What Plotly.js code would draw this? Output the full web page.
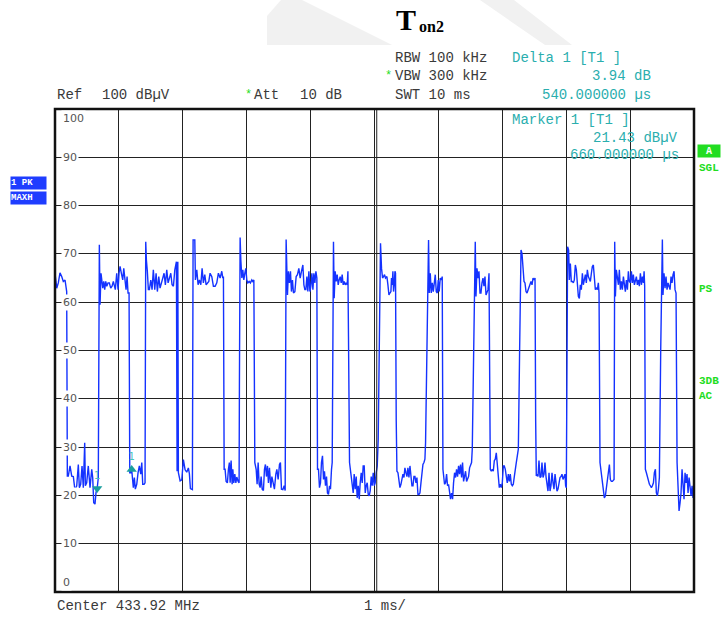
<!DOCTYPE html>
<html><head><meta charset="utf-8">
<script src="https://cdn.plot.ly/plotly-3.0.1.min.js"></script>
<style>html,body{margin:0;padding:0;background:#fff}#chart{width:723px;height:617px}</style>
</head><body><div id="chart"></div>
<script>
// ---- trace data: time (ms) and level (dBµV) ----
const traceTimeMs = [
 0,0.027,0.052,0.078,0.105,0.130,0.157,0.172,0.183,0.193,
 0.208,0.235,0.262,0.287,0.313,0.340,0.365,0.381,0.402,0.423,0.443,0.465,0.475,0.496,0.521,0.548,0.575,0.590,0.606,0.626,0.642,0.660,0.678,
 0.694,0.705,0.720,0.731,0.747,0.763,0.778,0.794,0.810,0.830,0.850,0.872,0.893,0.913,0.929,0.944,0.966,0.987,1.002,1.018,1.038,1.060,1.076,1.096,1.112,1.128,1.143,1.159,
 1.170,1.185,1.200,1.226,1.242,1.257,1.279,1.300,1.320,1.342,1.358,1.373,1.394,1.409,
 1.420,1.430,1.445,1.461,1.477,1.499,1.519,1.539,1.561,1.582,1.602,1.624,1.644,1.665,1.687,1.707,1.727,1.749,1.770,1.790,1.812,1.832,1.853,1.875,1.890,1.900,1.911,1.922,
 1.931,1.958,1.984,2.009,2.036,2.062,2.087,2.103,2.119,2.150,
 2.161,2.188,2.197,2.219,2.239,2.260,2.282,2.302,2.322,2.344,2.365,2.385,2.407,2.427,2.454,2.479,2.506,2.532,2.557,2.584,2.610,2.626,2.636,
 2.647,2.662,2.678,2.698,2.714,2.729,2.741,2.756,2.772,2.783,2.798,2.814,2.830,2.845,2.866,2.881,2.886,
 2.897,2.908,2.924,2.939,2.955,2.971,2.986,3.002,3.018,3.038,3.058,3.080,3.096,3.112,
 3.127,3.148,3.163,3.179,3.195,3.210,3.226,3.242,3.262,3.278,3.293,3.309,3.325,3.340,3.356,3.378,3.394,3.414,3.434,3.456,3.472,3.492,3.513,3.528,3.544,3.566,3.586,3.602,
 3.617,3.638,3.653,3.669,3.685,3.700,3.716,3.732,3.754,3.774,3.794,3.816,3.837,3.857,3.879,3.895,3.910,3.926,3.942,3.957,3.973,3.989,4.004,4.020,4.036,4.051,4.067,4.083,4.098,
 4.108,4.123,4.139,4.155,4.170,4.186,4.202,4.217,4.233,4.249,4.264,4.280,4.296,4.311,4.327,4.338,
 4.358,4.369,4.385,4.400,4.416,4.432,4.447,4.463,4.479,4.494,4.510,4.526,4.541,4.557,4.573,4.584,4.593,
 4.609,4.636,4.651,4.667,4.682,4.698,4.714,4.729,4.745,4.761,4.776,4.792,4.808,4.823,4.839,4.855,4.870,4.886,4.902,4.917,4.933,4.949,4.964,4.980,4.996,5.011,5.027,5.043,5.058,5.079,
 5.094,5.110,5.126,5.141,5.157,5.172,5.194,5.210,5.226,5.241,5.257,5.266,5.277,5.288,5.298,5.309,5.320,5.329,5.340,
 5.351,5.367,5.382,5.398,5.414,5.429,5.445,5.461,5.476,5.492,5.508,5.523,5.539,5.555,5.570,5.586,5.602,5.617,5.633,5.649,5.664,5.680,5.695,5.711,5.727,5.742,5.758,5.774,5.789,5.799,5.821,5.830,
 5.846,5.857,5.873,5.888,5.904,5.920,5.935,5.951,5.966,5.982,5.998,6.013,6.029,6.045,6.060,
 6.071,6.096,6.112,6.128,6.143,6.159,6.175,6.190,6.206,6.222,6.237,6.253,6.269,6.284,6.300,6.316,6.331,6.347,6.363,6.378,6.394,6.410,6.425,6.441,6.457,6.472,6.488,6.504,6.519,6.530,6.551,
 6.577,6.588,6.604,6.619,6.635,6.651,6.666,6.682,6.698,6.713,6.729,6.745,6.760,6.776,6.792,
 6.802,6.812,6.828,6.843,6.859,6.875,6.890,6.906,6.922,6.937,6.953,6.969,6.984,7.000,7.016,7.031,7.047,7.063,7.078,7.094,7.110,7.125,7.141,7.157,7.172,7.188,7.204,7.219,7.235,7.251,7.271,
 7.293,7.308,7.324,7.340,7.355,7.371,7.387,7.402,7.418,7.434,7.449,7.465,7.481,7.496,7.512,7.522,
 7.532,7.543,7.559,7.574,7.590,7.606,7.621,7.637,7.653,7.668,7.684,7.700,7.715,7.731,7.747,7.762,7.778,7.794,7.809,7.825,7.841,7.856,7.872,7.887,7.903,7.919,7.934,7.950,7.966,7.981,7.991,8.002,
 8.022,8.038,8.049,8.065,8.080,8.096,8.112,8.127,8.143,8.159,8.174,8.190,8.206,8.221,8.237,8.253,8.268,8.284,8.300,8.315,8.331,8.347,8.362,8.378,8.394,8.409,8.425,8.441,8.456,8.472,8.488,8.503,8.514,
 8.529,8.550,8.566,8.582,8.597,8.613,8.629,8.644,8.660,8.676,8.691,8.707,8.723,8.738,8.749,
 8.759,8.770,8.785,8.801,8.817,8.832,8.848,8.864,8.879,8.895,8.911,8.926,8.942,8.958,8.973,8.989,9.005,9.020,9.036,9.051,9.067,9.083,9.098,9.114,9.130,9.145,9.161,9.177,9.192,9.208,9.219,9.228,
 9.239,9.255,9.271,9.286,9.302,9.318,9.333,9.349,9.365,9.380,9.396,9.411,9.427,9.443,9.458,9.479,
 9.505,9.515,9.531,9.547,9.562,9.578,9.594,9.609,9.625,9.641,9.656,9.672,9.688,9.703,9.719,
 9.735,9.751,9.766,9.782,9.797,9.813,9.829,9.844,9.860,9.876,9.891,9.907,9.923,9.938,9.954,9.970,9.985,10.0
];
const traceLevelDbuV = [
 66,62.9,64,66.1,65.3,64.3,64.6,62.6,62.2,24,
 24,26.1,24,23.9,21,22,26.4,21.6,22.3,26.1,21.6,30.9,22,22.6,26.1,21.6,25.4,23.7,18.5,18.2,20.6,21.43,23.7,
 71.9,59.5,66,65,62.9,64.3,62.6,64.3,63.3,64,64,62.9,63.3,64.3,63.3,62.6,66,62.6,66,67.4,66,64.6,67,64,62.6,65.3,61.9,61.9,
 24.7,24.7,25.37,21.6,23.7,21.3,22.3,24.7,26.1,24.4,26.8,22.3,22.3,22.6,
 72.5,68.8,66.4,62.6,62.6,64.6,62.6,66.7,62.6,66,62.2,65.3,62.9,64,65.3,66,63.6,66.7,64,65.3,66,63.6,63.3,66.7,68,68.4,25,68.4,
 24.7,23,23.2,27.4,25.3,24.8,25.7,24.5,21.4,21.2,
 72.9,72.9,64.6,66.7,63.6,64.6,63.6,67,64,65.7,63.6,64,64.3,66,65.3,63.3,63.3,64,66,65,66.4,65,65.3,
 25.4,25.4,22.9,22.6,25.4,26.8,22.6,27.2,22.3,25.4,22.6,24.4,22.6,23.8,22.9,22.6,43,
 73.4,68.8,65,66.7,64.6,66,67,64.6,64,64.3,64,64.6,64.3,64.6,
 26.8,25.4,22.3,26.8,22.3,21.6,23.9,21.3,21,25.4,26.4,23.9,26.1,22.6,25.7,21.6,23.9,22.6,21.3,24.4,25.4,23.3,26.4,26.8,21.3,21.2,22,21,
 73,61.5,66.4,64,66.4,62.2,64.6,61.9,62.2,65.3,65.7,67,65,66.4,67.7,63.6,62.6,62.6,65.3,62.2,66.4,62.2,63.3,66,62.6,66,64,66.4,65,
 25.4,25.4,21.6,22.6,26.8,28.2,23.3,25,22,23.9,20.5,20.2,22,21.3,25.4,26.8,
 72.5,60.8,66.4,64.3,65.7,63.6,64.6,65.3,64,65.7,63.6,64.3,63.6,64,63.6,66.4,52.9,
 26.8,23.9,22,20.5,24.4,21.3,23.9,19.5,22,19.2,22.6,24.7,22.6,26.1,26.1,20.5,22,22.6,20.2,19.9,21,23.9,22,24.7,22,22.6,24.7,26.1,31.6,55,
 72.2,67,65,65.3,65.7,65,65.3,63.6,61.5,61.9,62.2,65,63.6,66.4,62.2,63.6,66.4,66,35.4,
 25,24.7,22.3,21.6,22.3,23.9,24.4,23.7,25.7,24.7,23.9,25.7,23.7,26.1,24.4,22,22,23.9,23.9,22.6,23.7,20.2,20.2,20.5,22.6,25.4,26.4,26.8,27.5,30.9,49.8,55,
 72.9,61.9,66,61.9,64,62.2,64.6,65.7,62.2,61.9,64.6,62.2,65,64.6,65.3,
 25.4,22.3,22.6,24.4,22,22.3,20.5,19.2,20.5,19.2,22.6,24.7,23.7,25.4,23.9,26.1,24.4,26.4,23.7,26.8,22.9,23.9,25,22.9,23.7,23.9,25.7,26.4,26.8,29.6,50,
 72.5,61.2,67,65,66.4,61.9,61.9,64,65,63.3,65.3,61.5,62.2,62.6,66,
 25.4,25.4,25,25.4,25,27.2,27.5,28.8,26.4,23.9,21.6,22.3,21.6,22.6,26.1,26.1,25.4,23.9,22.6,24.4,22.9,24.4,22.3,22,22.3,23.9,26.1,26.8,28.2,29.6,50,
 70.8,70.1,66,64.3,64,62.2,61.9,62.6,62.9,63.6,64.3,63.6,65,64.6,65,35.7,
 24,24.4,23.9,27.2,23.7,23.9,26.8,23.7,24.4,26.8,23.9,22.6,20.9,24.7,20.9,22,24.7,22.6,21.3,24.4,22,20.9,21.3,22.6,23.7,23.9,24.4,23.3,23.9,24.4,22,21.6,
 71.5,70.8,64.6,68,64.3,64.3,64,64.6,67.7,66.7,64,61.2,60.8,63.6,62.6,66,63.6,64.6,65.7,64,66.7,65.3,64.6,64.3,66,67.4,67.7,63.6,62.6,62.9,62.6,64,61.9,
 26.8,24.7,22.6,20.5,19.5,19.9,21.6,22.6,23.7,26.4,23.3,22.9,22.9,23.3,23.3,
 72.5,61.2,66.7,64.3,63.6,66.7,62.6,64.3,62.6,65.3,62.9,62.2,64.6,62.6,66.4,64.3,64,66.4,64,65.7,63.6,65,65.3,63.6,64.6,63.3,66,63.6,65.3,64,66.4,63.3,
 25.4,24.7,23.7,23.3,22.3,22,21.6,22,22.6,24.7,25.4,20.5,19.9,21.3,23.7,50,
 73,61.5,66,62.9,65.3,62.6,64,63.3,62.6,65.3,64,65.7,66.4,62.6,61.9,
 26.8,19.2,16.8,18.5,20.5,25.4,21.3,19.2,24.7,22.6,24.4,20.5,23.7,21.3,19.9,22,19.5,22
];
// ---- markers ----
const markerTimeMs = [0.66, 1.2];
const markerLevelDbuV = [21.43, 25.37];
const markerSymbols = ['triangle-down', 'triangle-up'];
const markerLabels = ['1', '1'];
// ---- axes ----
const yTickValues = [0,10,20,30,40,50,60,70,80,90,100];
const yTickLabels = ['0','10','20','30','40','50','60','70','80','90','100'];
const xTickValues = [0,1,2,3,4,5,6,7,8,9,10];

// ---- layout geometry (pixels) ----
const W = 723, H = 617, L = 55, R = 694, T = 109, B = 592;
const px = x => (x - L) / (R - L);
const py = y => (B - y) / (B - T);

const mono = 'Liberation Mono, Courier New, monospace';
const grey = '#3a3a3a', teal = '#2aaeae', green = '#22dd22';

function txt(text, x, y, anchor, color, size, extra) {
  return Object.assign({
    text: text, xref: 'paper', yref: 'paper', x: px(x), y: py(y),
    xanchor: anchor, yanchor: 'middle', showarrow: false,
    font: {family: mono, size: size || 14, color: color || grey}
  }, extra || {});
}

const serif = 'Liberation Serif, Times New Roman, serif';
const annotations = [
  // title  T_on2
  {text: '<b>T</b>', xref: 'paper', yref: 'paper', x: px(418), y: py(20),
   xanchor: 'right', yanchor: 'middle', showarrow: false,
   font: {family: serif, size: 30, color: '#000'}},
  {text: '<b>on2</b>', xref: 'paper', yref: 'paper', x: px(417), y: py(27),
   xanchor: 'left', yanchor: 'middle', showarrow: false,
   font: {family: serif, size: 16, color: '#000'}},
  // header
  txt('RBW 100 kHz', 393, 58, 'left'),
  txt('*', 383, 76, 'left', green, 12),
  txt('VBW 300 kHz', 393, 76, 'left'),
  txt('SWT 10 ms', 393, 95, 'left'),
  txt('Ref', 55, 95, 'left'),
  txt('100 dBµV', 100, 95, 'left'),
  txt('*', 243, 95, 'left', green, 12),
  txt('Att', 252, 95, 'left'),
  txt('10 dB', 298, 95, 'left'),
  txt('Delta 1 [T1 ]', 510, 58, 'left', teal),
  txt('3.94 dB', 653, 76, 'right', teal),
  txt('540.000000 µs', 653, 95, 'right', teal),
  // marker info inside plot
  txt('Marker 1 [T1 ]', 510, 120, 'left', teal),
  txt('21.43 dBµV', 680, 138, 'right', teal),
  txt('660.000000 µs', 681, 155, 'right', teal),
  // bottom
  txt('Center 433.92 MHz', 55, 606, 'left'),
  txt('1 ms/', 362, 606, 'left'),
  // right status labels
  txt('<b>A</b>', 708.5, 151.5, 'center', '#ffffff', 10,
      {bgcolor: green, width: 22, height: 12, borderpad: 0}),
  txt('<b>SGL</b>', 697, 168, 'left', green, 11),
  txt('<b>PS</b>', 697, 289, 'left', green, 11),
  txt('<b>3DB</b>', 697, 381, 'left', green, 11),
  txt('<b>AC</b>', 697, 396, 'left', green, 11),
  // left trace labels
  txt('<b>1 PK</b>', 10, 182.5, 'left', '#fff', 9,
      {bgcolor: '#1f3dff', width: 35, height: 12, borderpad: 0, align: 'left'}),
  txt('<b>MAXH</b>', 10, 198, 'left', '#fff', 9,
      {bgcolor: '#1f3dff', width: 35, height: 12, borderpad: 0, align: 'left'})
];
// y tick labels inside plot with white background
yTickValues.forEach((v, i) => {
  let shift = 0;
  if (v === 100) shift = -9;
  if (v === 0) shift = 10;
  annotations.push({
    text: yTickLabels[i], xref: 'paper', yref: 'y', x: px(61), y: v, yshift: shift,
    xanchor: 'left', yanchor: 'middle', showarrow: false, bgcolor: '#fff',
    borderpad: 1, font: {family: 'DejaVu Sans, sans-serif', size: 11, color: '#555'}
  });
});

const shapes = [
  // faint watermark
  {type: 'path', xref: 'paper', yref: 'paper', layer: 'below', line: {width: 0}, fillcolor: '#f1f1f1',
   path: `M ${px(267)},${py(45)} L ${px(267)},${py(16)} L ${px(281)},${py(0)} L ${px(302)},${py(0)} L ${px(392)},${py(45)} Z`},
  {type: 'path', xref: 'paper', yref: 'paper', layer: 'below', line: {width: 0}, fillcolor: '#f1f1f1',
   path: `M ${px(480)},${py(0)} L ${px(514)},${py(0)} L ${px(572)},${py(45)} L ${px(545)},${py(45)} Z`},
  // centre double line
  {type: 'line', xref: 'x', yref: 'paper', x0: 5.035, x1: 5.035, y0: 0, y1: 1, line: {color: '#222', width: 1}},
  // frame
  {type: 'rect', xref: 'paper', yref: 'paper', x0: 0, x1: 1, y0: 0, y1: 1, line: {color: '#111', width: 2.5}}
];

const data = [
  {x: traceTimeMs, y: traceLevelDbuV, type: 'scatter', mode: 'lines',
   line: {color: '#1432ff', width: 1.4}, hoverinfo: 'skip', cliponaxis: true},
  {x: markerTimeMs, y: markerLevelDbuV, type: 'scatter', mode: 'markers+text',
   marker: {symbol: markerSymbols, size: 9, color: '#1a9e9e'},
   text: markerLabels, textposition: 'top center',
   textfont: {family: 'DejaVu Sans, sans-serif', size: 10, color: '#4cc0c0'}, cliponaxis: false}
];

const layout = {
  width: W, height: H,
  margin: {l: L, r: W - R, t: T, b: H - B, pad: 0},
  paper_bgcolor: '#fff', plot_bgcolor: '#fff',
  showlegend: false,
  xaxis: {range: [0, 10], tickvals: xTickValues, showticklabels: false, ticks: '',
          showgrid: true, gridcolor: '#222', gridwidth: 1, zeroline: false, showline: false, fixedrange: true},
  yaxis: {range: [0, 100], tickvals: yTickValues, showticklabels: false, ticks: '',
          showgrid: true, gridcolor: '#222', gridwidth: 1, zeroline: false, showline: false, fixedrange: true},
  annotations: annotations,
  shapes: shapes
};

Plotly.newPlot('chart', data, layout, {staticPlot: true, displayModeBar: false});
</script>
</body></html>
